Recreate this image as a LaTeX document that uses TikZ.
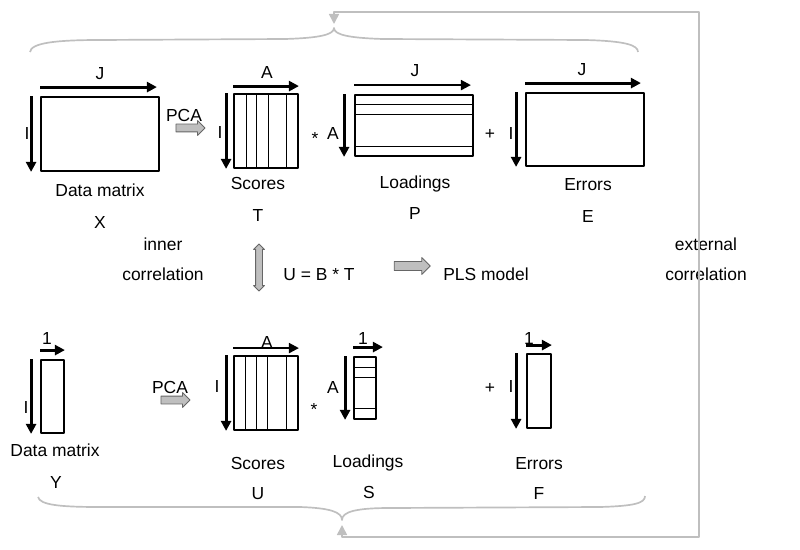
\documentclass[tikz,border=0pt]{standalone}
\usepackage{fontspec}
\setmainfont{Liberation Sans}
\usetikzlibrary{arrows.meta,shapes.arrows,fit}
\begin{document}
\begin{tikzpicture}[x=0.025cm,y=-0.025cm,>={Triangle[length=2.5mm,width=2.5mm]},line join=round,
  font=\fontsize{12.4}{14}\selectfont,
  txt/.style={inner sep=0pt,text height=8.9pt,text depth=0pt},
  mat/.style={draw,line width=1.3pt,inner sep=0pt},
  dim/.style={->,line width=2.2pt},
  dimthin/.style={->,line width=1.5pt},
  blk/.style={draw=gray!80!black,fill=gray!50,inner xsep=0pt,line width=0.6pt},
  brace/.style={draw=gray!50,line width=1.2pt}]
\useasboundingbox (0,0) rectangle (800,550);
% matrices
\node[mat,fit={(41,97)(159,171)}] (X) {};
\node[mat,fit={(234,94)(298,168)}] (T) {};
\node[mat,fit={(355,95)(473,156)}] (P) {};
\node[mat,fit={(526,93)(644,166)}] (E) {};
\node[mat,fit={(41,360)(64,433)}] (Y) {};
\node[mat,fit={(234,356)(298,430)}] (U) {};
\node[mat,fit={(354,357)(376,419)}] (S) {};
\node[mat,fit={(527,354)(551,428)}] (F) {};
\foreach \x in {246,256,268,286} \draw[line width=0.6pt] (\x,94) -- (\x,168);
\foreach \x in {245,256,267,286} \draw[line width=0.6pt] (\x,356) -- (\x,430);
\foreach \y in {104,114,146} \draw[line width=0.6pt] (355,\y) -- (473,\y);
\foreach \y in {367,377,408} \draw[line width=0.6pt] (354,\y) -- (376,\y);
% dimensions
\draw[dim] ([yshift=2.25mm]X.north west) -- ([yshift=2.25mm,xshift=-0.75mm]X.north east);
\draw[dim] ([xshift=-2.25mm]X.north west) -- ([xshift=-2.25mm]X.south west);
\draw[dim] ([yshift=1.75mm]T.north west) -- ([yshift=1.75mm]T.north east);
\draw[dim] ([xshift=-1.75mm]T.north west) -- ([xshift=-1.75mm]T.south west);
\draw[dimthin] ([yshift=2.25mm]P.north west) -- ([yshift=2.25mm,xshift=-0.75mm]P.north east);
\draw[dim] ([xshift=-2.5mm]P.north west) -- ([xshift=-2.5mm]P.south west);
\draw[dim] ([yshift=2.25mm]E.north west) -- ([yshift=2.25mm,xshift=-1mm]E.north east);
\draw[dim] ([xshift=-2.25mm]E.north west) -- ([xshift=-2.25mm]E.south west);
\draw[dim] ([yshift=2.25mm]Y.north west) -- ([yshift=2.25mm]Y.north east);
\draw[dim] ([xshift=-2.25mm]Y.north west) -- ([xshift=-2.25mm]Y.south west);
\draw[dimthin] ([yshift=1.75mm]U.north west) -- ([yshift=1.75mm]U.north east);
\draw[dim] ([xshift=-1.75mm]U.north west) -- ([xshift=-1.75mm]U.south west);
\draw[dim] ([yshift=2.25mm]S.north west) -- ([yshift=2.25mm,xshift=1.5mm]S.north east);
\draw[dim] ([xshift=-2mm]S.north west) -- ([xshift=-2mm]S.south west);
\draw[dim] ([yshift=2mm]F.north west) -- ([yshift=2mm]F.north east);
\draw[dim] ([xshift=-2.5mm]F.north west) -- ([xshift=-2.5mm]F.south west);
% labels
\foreach \n/\x/\y/\t in {jX/100/73/J, iX/27/133/I, aT/267/72/A, iT/220/132/I, jP/415/70/J, aP/333/133/A,
  jE/582/69/J, iE/511/133/I, plE/490/133/+, oY/47/338/1, iY/26/407/I, aU/267/342/A, iU/217/386/I,
  oS/363/338/1, aS/333/387/A, oF/529/338/1, iF/511/386/I, plF/490/387/+,
  dX/100/190/Data matrix, nX/100/222/X, pcaX/184/115/PCA, sT/258/183/Scores, nT/258/215/T,
  lP/415/182/Loadings, nP/415/213/P, eE/588/184/Errors, nE/588/216/E,
  inA/163/244/inner, inB/163/274/correlation, uBT/319/274/U = B * T, pls/486/274/PLS model,
  exA/706/244/external, exB/706/274/correlation,
  dY/55/450/Data matrix, nY/56/482/Y, pcaY/170/387/PCA, sU/258/463/Scores, nU/258/493/U,
  lS/368/461/Loadings, nS/369/492/S, eF/539/463/Errors, nF/539/493/F}
  \node[txt] (\n) at (\x,\y) {\t};
\node[txt] (stT) at (315,138) {*};
\node[txt] (stU) at (314,409) {*};
% block arrows
\node[blk,single arrow,inner ysep=0.875mm,minimum height=7.25mm,single arrow head extend=0.875mm] (arX) at (188.5,128) {};
\node[blk,single arrow,inner ysep=0.875mm,minimum height=7.25mm,single arrow head extend=0.875mm] (arY) at (173.5,400) {};
\node[blk,single arrow,inner ysep=1mm,minimum height=9mm,single arrow head extend=1mm] (arPLS) at (410,266) {};
\node[blk,double arrow,rotate=90,inner ysep=0.75mm,minimum height=11.75mm,double arrow head extend=0.5mm] (arIn) at (259,267.5) {};
% braces and outer loop
\path (334,28) coordinate (topTip) (342,520) coordinate (botTip);
\draw[brace] (30,52) .. controls (31,43) and (55,40) .. (100,40) -- (285,39) .. controls (318,38) and (334,35) .. (topTip)
  .. controls (334,35) and (350,38) .. (383,39) -- (585,40) .. controls (625,41) and (638,45) .. (638,52);
\draw[brace] (38,497) .. controls (40,505) and (60,507) .. (100,507) -- (300,507) .. controls (330,508) and (342,512) .. (botTip)
  .. controls (342,512) and (355,508) .. (390,508) -- (600,507) .. controls (635,506) and (645,503) .. (645,496);
\draw[brace,<->] ([yshift=-1.25mm]botTip) |- (699,537) |- (334,12) -- ([yshift=1mm]topTip);
\end{tikzpicture}
\end{document}
